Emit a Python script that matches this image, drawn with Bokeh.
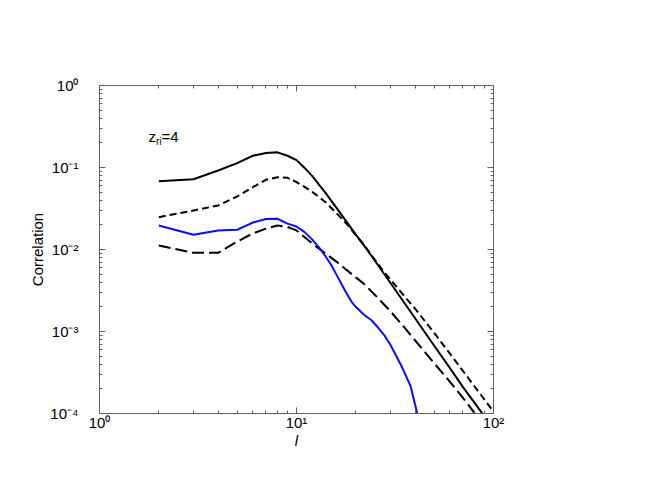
from bokeh.plotting import figure
from bokeh.models import Label, LogAxis, FixedTicker
from bokeh.embed import file_html
from bokeh.resources import INLINE

# ---- data ----
l_solid = [2, 3, 4, 5, 6, 7, 8, 9, 10, 11, 12, 14, 16, 18, 20, 22, 25, 30, 40, 50, 60, 70, 80, 90, 100]
c_solid = [0.068, 0.072, 0.092, 0.113, 0.139, 0.150, 0.153, 0.139, 0.123, 0.0988, 0.0791, 0.0495,
           0.0319, 0.0216, 0.0152, 0.0112, 0.0073, 0.0039, 0.00145, 6.7e-4, 3.6e-4, 2.1e-4,
           1.36e-4, 9.2e-5, 6.4e-5]

l_short = [2, 3, 4, 5, 6, 7, 8, 9, 10, 11, 12, 14, 16, 18, 20, 22, 25, 28, 30, 35, 40, 50, 60, 70, 80, 90, 100]
c_short = [0.0248, 0.0299, 0.0344, 0.0443, 0.0575, 0.0708, 0.0762, 0.0748, 0.0665, 0.058, 0.0507,
           0.038, 0.0276, 0.0205, 0.0150, 0.0114, 0.0075, 0.0052, 0.0043, 0.00275, 0.0019,
           9.6e-4, 5.4e-4, 3.3e-4, 2.15e-4, 1.48e-4, 1.05e-4]

l_long = [2, 3, 4, 5, 6, 7, 8, 9, 10, 12, 14, 16, 18, 20, 22, 25, 30, 35, 40, 50, 60, 70, 80, 90]
c_long = [0.0112, 0.0091, 0.0091, 0.0125, 0.0157, 0.018, 0.0196, 0.0188, 0.0171, 0.01187, 0.00899,
          0.00707, 0.0056, 0.00457, 0.00381, 0.0028, 0.00176, 0.00115, 7.8e-4, 4.1e-4, 2.45e-4,
          1.55e-4, 1.02e-4, 7.1e-5]

l_blue = [2, 3, 4, 5, 6, 7, 8, 9, 10, 11, 12, 13, 14, 15, 16, 17, 18, 19, 20, 22, 24, 26, 28, 30,
          32, 34, 36, 38, 40, 41, 42]
c_blue = [0.0196, 0.0151, 0.0171, 0.0174, 0.0213, 0.0236, 0.0237, 0.0207, 0.0191, 0.0163, 0.01328,
          0.01064, 0.00835, 0.00646, 0.00487, 0.00372, 0.00289, 0.00232, 0.0020, 0.0016, 0.00137,
          0.00111, 8.9e-4, 6.84e-4, 5.1e-4, 3.85e-4, 2.86e-4, 2.13e-4, 1.28e-4, 1.0e-4, 7.0e-5]

x_ticks = [1, 10, 100]
x_tick_labels = ["10⁰", "10¹", "10²"]
y_ticks = [1, 0.1, 0.01, 0.001, 0.0001]
y_tick_labels = ["10⁰", "10⁻¹", "10⁻²", "10⁻³", "10⁻⁴"]
x_minor = [m * 10 ** d for d in range(0, 2) for m in range(2, 10)]
y_minor = [m * 10.0 ** d for d in range(-4, 0) for m in range(2, 10)]

FONT = "Liberation Sans"
GRAY = "#606060"

p = figure(x_axis_type="log", y_axis_type="log", x_range=(1, 100), y_range=(1e-4, 1),
           frame_width=394, frame_height=328,
           min_border_left=99, min_border_right=144, min_border_top=85, min_border_bottom=77,
           output_backend="svg", toolbar_location=None)
p.background_fill_color = "white"
p.border_fill_color = "white"
p.outline_line_color = GRAY
p.grid.visible = False

p.add_layout(LogAxis(), "right")
p.add_layout(LogAxis(), "above")

for ax in p.xaxis:
    ax.ticker = FixedTicker(ticks=x_ticks, minor_ticks=x_minor)
for ax in p.yaxis:
    ax.ticker = FixedTicker(ticks=y_ticks, minor_ticks=y_minor)
for ax in p.xaxis + p.yaxis:
    ax.axis_line_color = GRAY
    ax.major_tick_line_color = GRAY
    ax.minor_tick_line_color = GRAY
    ax.major_tick_in = 6
    ax.major_tick_out = 0
    ax.minor_tick_in = 3
    ax.minor_tick_out = 0
    ax.major_label_text_font = FONT
    ax.major_label_text_font_size = "15px"
    ax.major_label_text_color = "black"
    ax.axis_label_text_color = "black"

bottom = p.below[0]
left = p.left[0]
right = p.right[0]
top = p.above[0]

bottom.major_label_overrides = dict(zip(x_ticks, x_tick_labels))
bottom.major_label_standoff = 0
bottom.axis_label = "l"
bottom.axis_label_text_font = FONT
bottom.axis_label_text_font_size = "15px"
bottom.axis_label_text_font_style = "italic"
bottom.axis_label_standoff = -2

left.major_label_overrides = dict(zip(y_ticks, y_tick_labels))
left.major_label_standoff = 21
left.axis_label = "Correlation"
left.axis_label_text_font = FONT
left.axis_label_text_font_size = "15px"
left.axis_label_text_font_style = "normal"
left.axis_label_standoff = 1

right.major_label_overrides = {t: "" for t in y_ticks}
top.major_label_overrides = {t: "" for t in x_ticks}

# ---- curves ----
p.line(l_solid, c_solid, line_color="black", line_width=2)
p.line(l_short, c_short, line_color="black", line_width=2, line_dash="7 4")
p.line(l_long, c_long, line_color="black", line_width=2, line_dash="12 5")
p.line(l_blue, c_blue, line_color="#0a0aff", line_width=2)

# ---- annotation z_ri = 4 ----
p.add_layout(Label(x=1, y=1, text="z", x_offset=49, y_offset=-51, text_baseline="alphabetic",
                   text_font=FONT, text_font_size="15px", text_color="black"))
p.add_layout(Label(x=1, y=1, text="ri", x_offset=56.5, y_offset=-56, text_baseline="alphabetic",
                   text_font=FONT, text_font_size="10px", text_color="black"))
p.add_layout(Label(x=1, y=1, text="=4", x_offset=62, y_offset=-51, text_baseline="alphabetic",
                   text_font=FONT, text_font_size="15px", text_color="black"))

open("out.html", "w").write(file_html(p, INLINE))
